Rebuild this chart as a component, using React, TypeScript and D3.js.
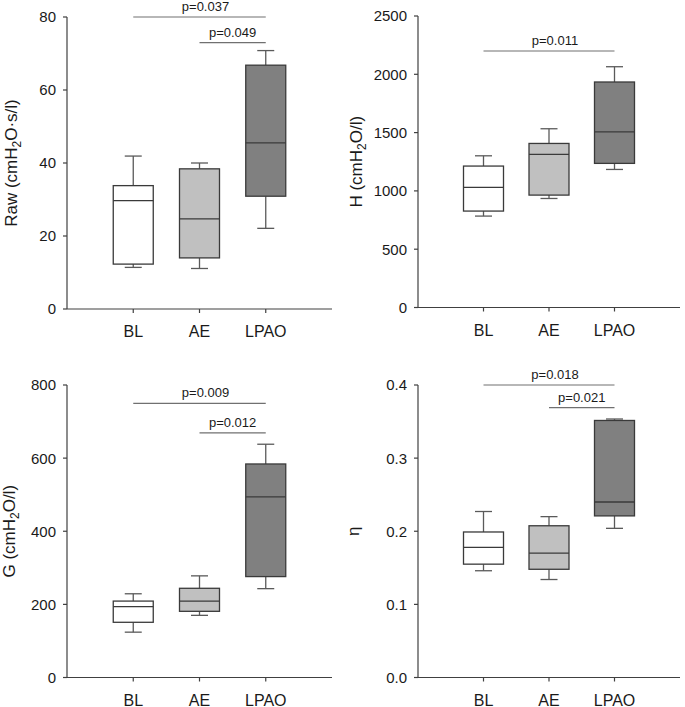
import React from 'react';
import * as d3 from 'd3';

// ---------- data ----------
const categories = ['BL', 'AE', 'LPAO'];
const boxFills = ['#ffffff', '#c0c0c0', '#808080'];

// [min, q1, median, q3, max] per category
const rawStats = [
  [11.4, 12.3, 29.7, 33.8, 41.9],
  [11.1, 14.0, 24.7, 38.4, 40.0],
  [22.1, 30.9, 45.5, 66.8, 70.8],
];
const hStats = [
  [784, 827, 1030, 1213, 1301],
  [935, 964, 1313, 1407, 1533],
  [1184, 1236, 1507, 1934, 2065],
];
const gStats = [
  [124, 151, 194, 209, 229],
  [170, 181, 209, 244, 278],
  [243, 276, 494, 584, 638],
];
const etaStats = [
  [0.146, 0.155, 0.178, 0.199, 0.227],
  [0.134, 0.148, 0.170, 0.2075, 0.220],
  [0.204, 0.221, 0.240, 0.3515, 0.3535],
];

const rawTicks = [0, 20, 40, 60, 80];
const hTicks = [0, 500, 1000, 1500, 2000, 2500];
const gTicks = [0, 200, 400, 600, 800];
const etaTicks = [0, 0.1, 0.2, 0.3, 0.4];

const rawSig = [
  { from: 'BL', to: 'LPAO', y: 80, label: 'p=0.037' },
  { from: 'AE', to: 'LPAO', y: 73, label: 'p=0.049' },
];
const hSig = [{ from: 'BL', to: 'LPAO', y: 2200, label: 'p=0.011' }];
const gSig = [
  { from: 'BL', to: 'LPAO', y: 750, label: 'p=0.009' },
  { from: 'AE', to: 'LPAO', y: 669, label: 'p=0.012' },
];
const etaSig = [
  { from: 'BL', to: 'LPAO', y: 0.4, label: 'p=0.018' },
  { from: 'AE', to: 'LPAO', y: 0.369, label: 'p=0.021' },
];

// ---------- layout ----------
const FONT = '"Liberation Sans", Arial, Helvetica, sans-serif';

type Sig = { from: string; to: string; y: number; label: string };
type PanelCfg = {
  stats: number[][];
  ticks: number[];
  fmt: (v: number) => string;
  sig: Sig[];
  title: { pre: string; sub?: string; post?: string };
  x0: number;
  x1: number;
  yTop: number;
  yBot: number;
  titleX: number;
};

const panels: PanelCfg[] = [
  {
    stats: rawStats, ticks: rawTicks, fmt: d3.format('d'), sig: rawSig,
    title: { pre: 'Raw (cmH', sub: '2', post: 'O·s/l)' },
    x0: 67, x1: 332, yTop: 17, yBot: 309, titleX: 17,
  },
  {
    stats: hStats, ticks: hTicks, fmt: d3.format('d'), sig: hSig,
    title: { pre: 'H (cmH', sub: '2', post: 'O/l)' },
    x0: 418, x1: 680, yTop: 16, yBot: 307.5, titleX: 361.5,
  },
  {
    stats: gStats, ticks: gTicks, fmt: d3.format('d'), sig: gSig,
    title: { pre: 'G (cmH', sub: '2', post: 'O/l)' },
    x0: 67, x1: 332, yTop: 385, yBot: 677.5, titleX: 15,
  },
  {
    stats: etaStats, ticks: etaTicks, fmt: d3.format('.1f'), sig: etaSig,
    title: { pre: 'η' },
    x0: 418, x1: 680, yTop: 385, yBot: 677.5, titleX: 359,
  },
];

const AXIS = '#404040';
const BOX_STROKE = '#3a3a3a';
const WHISK = '#5a5a5a';
const SIG = '#707070';
const TEXT = '#1a1a1a';

function Panel({ cfg }: { cfg: PanelCfg }) {
  const domainMax = cfg.ticks[cfg.ticks.length - 1];
  const y = d3.scaleLinear().domain([0, domainMax]).range([cfg.yBot, cfg.yTop]);
  const x = d3.scalePoint<string>().domain(categories).range([cfg.x0, cfg.x1]).padding(1);
  const boxW = 40;
  const capW = 17;
  const yMid = (cfg.yTop + cfg.yBot) / 2;

  return (
    <g>
      {/* axes */}
      <line x1={cfg.x0} x2={cfg.x0} y1={y(domainMax)} y2={cfg.yBot} stroke={AXIS} strokeWidth={1.2} />
      <line x1={cfg.x0} x2={cfg.x1} y1={cfg.yBot} y2={cfg.yBot} stroke={AXIS} strokeWidth={1.2} />
      {cfg.ticks.map((t) => (
        <g key={'yt' + t}>
          <line x1={cfg.x0 - 4} x2={cfg.x0} y1={y(t)} y2={y(t)} stroke={AXIS} strokeWidth={1.2} />
          <text
            x={cfg.x0 - 11}
            y={y(t)}
            dy="0.36em"
            textAnchor="end"
            fontSize={15}
            fontFamily={FONT}
            fill={TEXT}
          >
            {cfg.fmt(t)}
          </text>
        </g>
      ))}
      {categories.map((c) => (
        <g key={'xt' + c}>
          <line x1={x(c)!} x2={x(c)!} y1={cfg.yBot} y2={cfg.yBot + 4} stroke={AXIS} strokeWidth={1.2} />
          <text
            x={x(c)!}
            y={cfg.yBot + 28}
            textAnchor="middle"
            fontSize={16}
            fontFamily={FONT}
            fill={TEXT}
          >
            {c}
          </text>
        </g>
      ))}
      {/* y title */}
      <text
        transform={`translate(${cfg.titleX},${yMid}) rotate(-90)`}
        textAnchor="middle"
        fontSize={17}
        fontFamily={FONT}
        fill={TEXT}
      >
        {cfg.title.pre}
        {cfg.title.sub && (
          <tspan fontSize={12} dy={4}>
            {cfg.title.sub}
          </tspan>
        )}
        {cfg.title.post && <tspan dy={cfg.title.sub ? -4 : 0}>{cfg.title.post}</tspan>}
      </text>
      {/* boxes */}
      {cfg.stats.map((s, i) => {
        const cx = x(categories[i])!;
        const [mn, q1, md, q3, mx] = s;
        return (
          <g key={'box' + i}>
            <line x1={cx} x2={cx} y1={y(mx)} y2={y(q3)} stroke={WHISK} strokeWidth={1.3} />
            <line x1={cx} x2={cx} y1={y(q1)} y2={y(mn)} stroke={WHISK} strokeWidth={1.3} />
            <line x1={cx - capW / 2} x2={cx + capW / 2} y1={y(mx)} y2={y(mx)} stroke={WHISK} strokeWidth={1.3} />
            <line x1={cx - capW / 2} x2={cx + capW / 2} y1={y(mn)} y2={y(mn)} stroke={WHISK} strokeWidth={1.3} />
            <rect
              x={cx - boxW / 2}
              y={y(q3)}
              width={boxW}
              height={y(q1) - y(q3)}
              fill={boxFills[i]}
              stroke={BOX_STROKE}
              strokeWidth={1.3}
            />
            <line x1={cx - boxW / 2} x2={cx + boxW / 2} y1={y(md)} y2={y(md)} stroke={BOX_STROKE} strokeWidth={1.3} />
          </g>
        );
      })}
      {/* significance brackets */}
      {cfg.sig.map((s, i) => {
        const xa = x(s.from)!;
        const xb = x(s.to)!;
        return (
          <g key={'sig' + i}>
            <line x1={xa} x2={xb} y1={y(s.y)} y2={y(s.y)} stroke={SIG} strokeWidth={1.2} />
            <text
              x={(xa + xb) / 2 + (xb - xa > 100 ? 6 : 0)}
              y={y(s.y) - 6}
              textAnchor="middle"
              fontSize={13}
              fontFamily={FONT}
              fill={TEXT}
            >
              {s.label}
            </text>
          </g>
        );
      })}
    </g>
  );
}

export default function App() {
  return (
    <div style={{ position: 'absolute', left: 0, top: 0 }}>
      <svg width={685} height={707} viewBox="0 0 685 707" style={{ display: 'block', background: '#fff' }}>
        <rect x={0} y={0} width={685} height={707} fill="#fff" />
        {panels.map((p, i) => (
          <Panel key={i} cfg={p} />
        ))}
      </svg>
    </div>
  );
}
